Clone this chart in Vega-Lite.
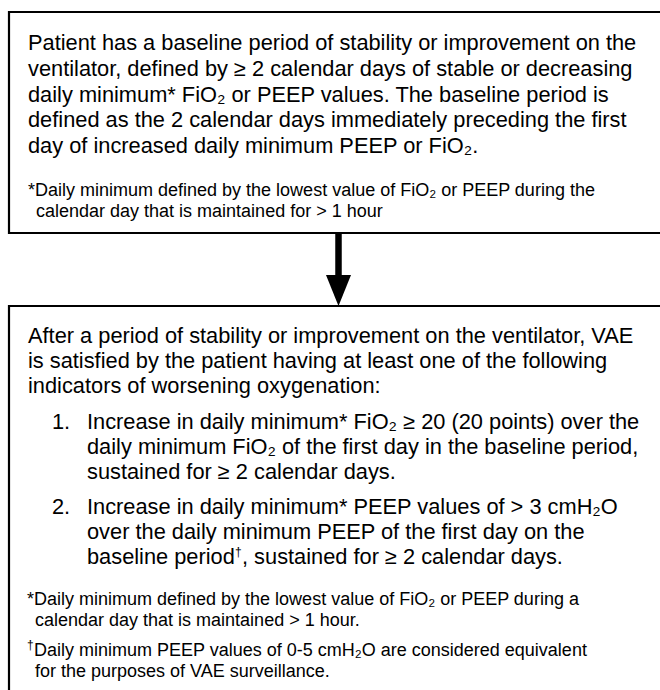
{
  "$schema": "https://vega.github.io/schema/vega-lite/v6.json",
  "width": 660,
  "height": 690,
  "padding": 0,
  "autosize": "none",
  "background": "white",
  "config": {"view": {"stroke": null}, "axis": {"disable": true}},
  "datasets": {
    "boxes": [
      {"box": "baseline", "x0": 9, "x1": 672, "y0": 12, "y1": 233},
      {"box": "vae", "x0": 9, "x1": 672, "y0": 306, "y1": 705}
    ],
    "shaft": [{"x": 338.5, "ya": 234, "yb": 280}],
    "head": [{"x": 338.5, "y": 290.5}],
    "main": [
      {"x": 28, "y": 50, "t": "Patient has a baseline period of stability or improvement on the"},
      {"x": 28, "y": 76, "t": "ventilator, defined by ≥ 2 calendar days of stable or decreasing"},
      {"x": 28, "y": 101.5, "t": "daily minimum* FiO₂ or PEEP values. The baseline period is"},
      {"x": 28, "y": 127, "t": "defined as the 2 calendar days immediately preceding the first"},
      {"x": 28, "y": 152.5, "t": "day of increased daily minimum PEEP or FiO₂."},
      {"x": 28, "y": 343, "t": "After a period of stability or improvement on the ventilator, VAE"},
      {"x": 28, "y": 368, "t": "is satisfied by the patient having at least one of the following"},
      {"x": 28, "y": 393, "t": "indicators of worsening oxygenation:"},
      {"x": 52, "y": 429, "t": "1."},
      {"x": 87, "y": 429, "t": "Increase in daily minimum* FiO₂ ≥ 20 (20 points) over the"},
      {"x": 87, "y": 454, "t": "daily minimum FiO₂ of the first day in the baseline period,"},
      {"x": 87, "y": 479, "t": "sustained  for ≥ 2 calendar days."},
      {"x": 52, "y": 514, "t": "2."},
      {"x": 87, "y": 514, "t": "Increase in daily minimum* PEEP values of > 3 cmH₂O"},
      {"x": 87, "y": 539, "t": "over the daily minimum PEEP of the first day on the"},
      {"x": 87, "y": 564, "t": "baseline period"},
      {"x": 242, "y": 564, "t": ", sustained for ≥ 2 calendar days."}
    ],
    "note": [
      {"x": 28, "y": 196, "t": "*Daily minimum defined by the lowest value of FiO₂ or PEEP during the"},
      {"x": 36, "y": 217, "t": "calendar day that is maintained for > 1 hour"},
      {"x": 27, "y": 605, "t": "*Daily minimum defined by the lowest value of FiO₂ or PEEP during a"},
      {"x": 35, "y": 626, "t": "calendar day that is maintained > 1 hour."},
      {"x": 34, "y": 656, "t": "Daily minimum PEEP values of 0-5 cmH₂O are considered equivalent"},
      {"x": 35, "y": 677, "t": "for the purposes of VAE surveillance."}
    ],
    "sup": [
      {"x": 235, "y": 556, "t": "†"},
      {"x": 27, "y": 649, "t": "†"}
    ]
  },
  "layer": [
    {
      "data": {"name": "boxes"},
      "mark": {"type": "rect", "fill": null, "stroke": "black", "strokeWidth": 2.2},
      "encoding": {
        "x": {"field": "x0", "type": "quantitative", "scale": {"domain": [0, 660]}},
        "x2": {"field": "x1"},
        "y": {"field": "y0", "type": "quantitative", "scale": {"domain": [690, 0]}},
        "y2": {"field": "y1"}
      }
    },
    {
      "data": {"name": "shaft"},
      "mark": {"type": "rule", "stroke": "black", "strokeWidth": 6.5},
      "encoding": {
        "x": {"field": "x", "type": "quantitative", "scale": {"domain": [0, 660]}},
        "y": {"field": "ya", "type": "quantitative", "scale": {"domain": [690, 0]}},
        "y2": {"field": "yb"}
      }
    },
    {
      "data": {"name": "head"},
      "mark": {"type": "point", "shape": "M -1 -1.24 L 1 -1.24 L 0 1.24 Z", "filled": true, "fill": "black", "stroke": null, "size": 625, "opacity": 1},
      "encoding": {
        "x": {"field": "x", "type": "quantitative", "scale": {"domain": [0, 660]}},
        "y": {"field": "y", "type": "quantitative", "scale": {"domain": [690, 0]}}
      }
    },
    {
      "data": {"name": "main"},
      "mark": {"type": "text", "align": "left", "baseline": "alphabetic", "font": "Liberation Sans", "fontSize": 21.8, "color": "black"},
      "encoding": {
        "x": {"field": "x", "type": "quantitative", "scale": {"domain": [0, 660]}},
        "y": {"field": "y", "type": "quantitative", "scale": {"domain": [690, 0]}},
        "text": {"field": "t"}
      }
    },
    {
      "data": {"name": "note"},
      "mark": {"type": "text", "align": "left", "baseline": "alphabetic", "font": "Liberation Sans", "fontSize": 18, "color": "black"},
      "encoding": {
        "x": {"field": "x", "type": "quantitative", "scale": {"domain": [0, 660]}},
        "y": {"field": "y", "type": "quantitative", "scale": {"domain": [690, 0]}},
        "text": {"field": "t"}
      }
    },
    {
      "data": {"name": "sup"},
      "mark": {"type": "text", "align": "left", "baseline": "alphabetic", "font": "Liberation Sans", "fontSize": 12, "color": "black"},
      "encoding": {
        "x": {"field": "x", "type": "quantitative", "scale": {"domain": [0, 660]}},
        "y": {"field": "y", "type": "quantitative", "scale": {"domain": [690, 0]}},
        "text": {"field": "t"}
      }
    }
  ]
}
